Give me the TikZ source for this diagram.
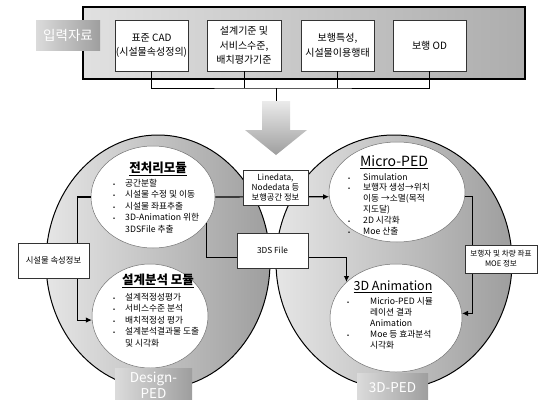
\documentclass[tikz,border=0pt]{standalone}
\usepackage{fontspec}
\setmainfont{Noto Sans CJK KR}
\usetikzlibrary{shapes.geometric,arrows.meta}

\newcommand{\dotitem}{{\fontsize{6}{6}\selectfont •}}

\begin{document}
\begin{tikzpicture}[x=1pt, y=-1pt,
    inbox/.style={draw=black!80, fill=white, line width=0.6pt, minimum height=51pt, inner sep=1pt, align=center, font=\fontsize{10}{14.5}\selectfont},
    smallbox/.style={draw=black!80, fill=white, line width=0.6pt, inner sep=1pt, align=center, font=\fontsize{8.3}{10}\selectfont},
    bigcirc/.style={ellipse, draw=black, line width=1pt, inner sep=0pt, left color=black!10, right color=black!38},
    modul/.style={ellipse, draw=black!55, line width=0.5pt, inner sep=0pt, fill=white},
    ttl/.style={inner sep=0pt, font=\fontsize{12.5}{14}\selectfont\bfseries},
    lst/.style={anchor=north west, inner sep=0pt, align=left},
    tag/.style={text=white, inner sep=0pt, align=center, font=\fontsize{13.5}{16}\selectfont, left color=black!14, right color=black!38},
    link/.style={draw=black, line width=1.1pt},
    arr/.style={link, -{Latex[length=6pt, width=5.5pt]}}]
    \useasboundingbox (0,0) rectangle (538,399);

    % input data panel
    \node[draw=black, line width=1.2pt, left color=black!12, right color=black!32, minimum width=442pt, minimum height=72pt, inner sep=0pt] (panel) at (304,43) {};
    \node[tag, minimum width=64pt, minimum height=30pt] (inlabel) at (68,35) {입력자료};

    \coordinate (hub) at (276,88);
    \coordinate (atop) at (276,101);

    \node[inbox, minimum width=73pt] (b1) at (151.5,45.5) {표준 CAD\\(시설물속성정의)};
    \node[inbox, minimum width=74pt] (b2) at (244,45.5) {설계기준 및\\서비스수준,\\배치평가기준};
    \node[inbox, minimum width=73pt] (b3) at (337.5,45.5) {보행특성,\\시설물이용행태};
    \node[inbox, minimum width=73pt] (b4) at (429.5,45.5) {보행 OD};

    \draw[line width=1pt] (b1.south) |- (hub) -| (b4.south);
    \draw[line width=1pt] (b2.south) -- (b2.south |- hub);
    \draw[line width=1pt] (b3.south) -- (b3.south |- hub);
    \draw[line width=1pt] (hub) -- (atop);

    % big arrow
    \path[top color=black!8, bottom color=black!38] (262,101) -- (290,101) -- (290,130) -- (307,130) -- (276,155) -- (245,130) -- (262,130) -- cycle;

    % two platforms
    \node[bigcirc, minimum width=224pt, minimum height=254pt] (dpc) at (158,262) {};
    \node[bigcirc, minimum width=236pt, minimum height=254pt] (tpc) at (394,262) {};

    % modules
    \node[modul, minimum width=124pt, minimum height=102pt] (pre) at (153,197) {};
    \node[modul, minimum width=116pt, minimum height=104pt] (des) at (150,316) {};
    \node[modul, minimum width=136pt, minimum height=100pt] (mic) at (397,192) {};
    \node[modul, minimum width=132pt, minimum height=108pt] (ani) at (396,318) {};

    \node[ttl] (pretitle) at (158,169) {\underline{전처리모듈}};
    \node[ttl] (destitle) at (158,281) {\underline{설계분석 모듈}};
    \node[ttl, font=\fontsize{14}{16}\selectfont] (mictitle) at (394,162) {\underline{Micro-PED}};
    \node[ttl, font=\fontsize{12.5}{14}\selectfont] (anititle) at (393,287) {\underline{3D Animation}};

    \node[lst, font=\fontsize{8.7}{11.5}\selectfont] (prelist) at (113,178) {\begin{tabular}{@{}p{12pt}@{}l@{}}
        \dotitem & 공간분할\\
        \dotitem & 시설물 수정 및 이동\\
        \dotitem & 시설물 좌표추출\\
        \dotitem & 3D-Animation 위한\\
                 & 3DSFile 추출
    \end{tabular}};
    \node[lst, font=\fontsize{8.7}{11.5}\selectfont] (deslist) at (113,292) {\begin{tabular}{@{}p{12pt}@{}l@{}}
        \dotitem & 설계적정성평가\\
        \dotitem & 서비스수준 분석\\
        \dotitem & 배치적정성 평가\\
        \dotitem & 설계분석결과물 도출\\
                 & 및 시각화
    \end{tabular}};
    \node[lst, font=\fontsize{8.7}{10.8}\selectfont] (miclist) at (348,172.4) {\begin{tabular}{@{}p{15pt}@{}l@{}}
        \dotitem & Simulation\\
        \dotitem & 보행자 생성→위치\\
                 & 이동 →소멸(목적\\
                 & 지도달)\\
        \dotitem & 2D 시각화\\
        \dotitem & Moe 산출
    \end{tabular}};
    \node[lst, font=\fontsize{8.7}{11}\selectfont] (anilist) at (347,297) {\begin{tabular}{@{}p{23pt}@{}l@{}}
        \dotitem & Micrio-PED 시뮬\\
                 & 레이션 결과\\
                 & Animation\\
        \dotitem & Moe 등 효과분석\\
                 & 시각화
    \end{tabular}};

    % data flows
    \draw[arr] (pre.east) -- (mic.184);
    \draw[arr] (pre.-26) -- ++(0,34) -| (ani.144);
    \draw[arr] (pre.west) -- ++(-13,0) |- (des.184);
    \draw[arr] (mic.-4) -- ++(8,0) |- (ani.4);

    \node[smallbox, minimum width=65pt, minimum height=35pt] (linebox) at (275.5,187.5) {Linedata,\\Nodedata 등\\보행공간 정보};
    \node[smallbox, minimum width=71pt, minimum height=35pt] (tdsbox) at (272.5,250.5) {3DS File};
    \node[smallbox, minimum width=71pt, minimum height=35pt] (attrbox) at (53.5,260.5) {시설물 속성정보};
    \node[smallbox, minimum width=72pt, minimum height=28pt, font=\fontsize{7.6}{10}\selectfont] (posbox) at (501,259) {보행자 및 차량 좌표\\MOE 정보};

    \node[tag, minimum width=77pt, minimum height=34pt] (dtag) at (153.5,385) {Design-\\PED};
    \node[tag, minimum width=71pt, minimum height=30pt] (ttag) at (392.5,388) {3D-PED};
\end{tikzpicture}
\end{document}
